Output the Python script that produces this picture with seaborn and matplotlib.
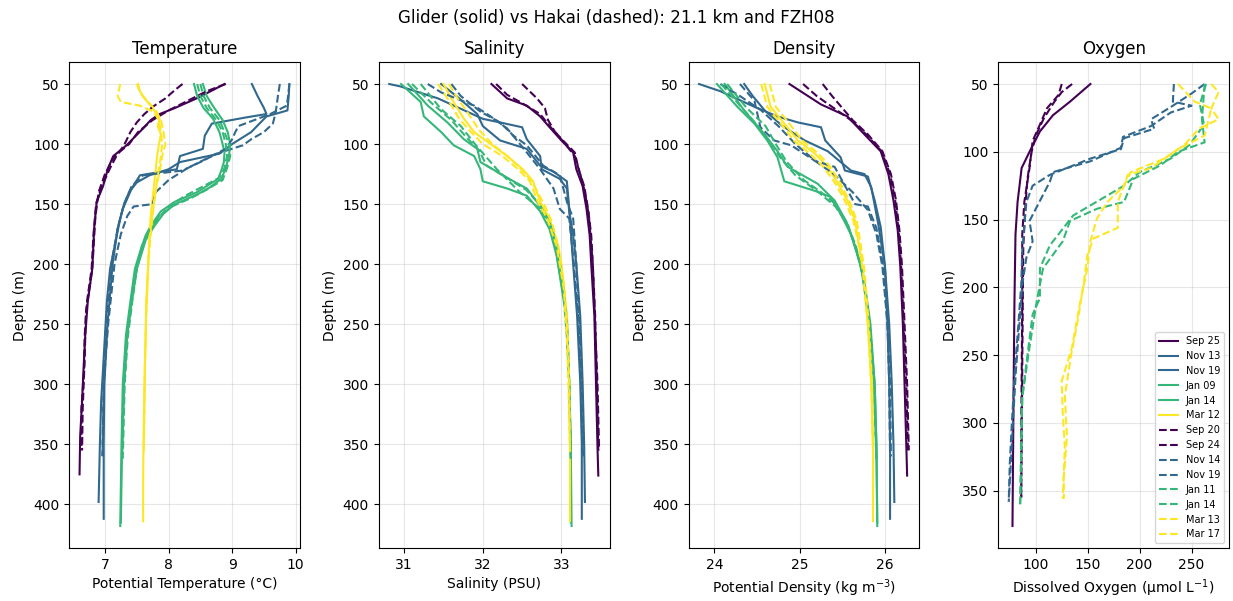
import matplotlib
matplotlib.use("Agg")
import matplotlib.pyplot as plt
from matplotlib.lines import Line2D
import seaborn as sns
import pandas as pd

# ---------------- data (depth list, value list) ----------------
glider_labels = ["Sep 25", "Nov 13", "Nov 19", "Jan 09", "Jan 14", "Mar 12"]
hakai_labels = ["Sep 20", "Sep 24", "Nov 14", "Nov 19", "Jan 11", "Jan 14", "Mar 13", "Mar 17"]

temp_glider = {
    "Sep 25": ([50, 55, 62, 70, 75, 80, 87, 95, 101, 110, 120, 135, 148, 170, 204, 231, 259, 290, 314, 343, 375],
               [8.88, 8.7, 8.44, 8.1, 7.86, 7.72, 7.6, 7.45, 7.34, 7.13, 7.05, 6.97, 6.87, 6.83, 6.8, 6.73, 6.69, 6.66, 6.64, 6.61, 6.6]),
    "Nov 13": ([50, 60, 70, 75, 78, 83, 93, 104, 110, 121, 126, 137, 154, 162, 204, 231, 287, 314, 350, 398],
               [9.31, 9.4, 9.5, 9.54, 9.2, 8.68, 8.57, 8.54, 8.18, 8.13, 7.55, 7.42, 7.28, 7.24, 7.08, 7.03, 6.97, 6.94, 6.92, 6.9]),
    "Nov 19": ([50, 60, 72, 77, 90, 100, 108, 115, 121, 126, 132, 140, 150, 170, 200, 250, 300, 350, 412],
               [9.9, 9.89, 9.87, 9.54, 9.3, 9.0, 8.8, 8.18, 8.0, 7.7, 7.5, 7.38, 7.3, 7.2, 7.12, 7.04, 6.99, 6.98, 6.98]),
    "Jan 09": ([50, 60, 70, 79, 90, 100, 107, 115, 122, 129, 135, 140, 148, 156, 168, 176, 190, 204, 231, 259, 300, 350, 418],
               [8.4, 8.45, 8.55, 8.7, 8.8, 8.85, 8.88, 8.87, 8.83, 8.78, 8.6, 8.45, 8.1, 7.88, 7.72, 7.64, 7.55, 7.47, 7.4, 7.33, 7.28, 7.26, 7.24]),
    "Jan 14": ([50, 60, 70, 80, 90, 100, 110, 120, 129, 136, 142, 150, 158, 168, 180, 204, 231, 259, 300, 350, 415],
               [8.54, 8.6, 8.72, 8.85, 8.93, 8.97, 8.95, 8.9, 8.83, 8.65, 8.45, 8.1, 7.92, 7.78, 7.64, 7.5, 7.42, 7.35, 7.3, 7.27, 7.25]),
    "Mar 12": ([50, 56, 62, 68, 74, 79, 85, 92, 100, 110, 121, 130, 140, 160, 176, 200, 231, 280, 330, 380, 414],
               [7.52, 7.55, 7.62, 7.72, 7.8, 7.86, 7.83, 7.88, 7.85, 7.82, 7.8, 7.78, 7.76, 7.72, 7.7, 7.68, 7.65, 7.63, 7.61, 7.6, 7.6]),
}
temp_hakai = {
    "Sep 20": ([50, 55, 62, 69, 75, 82, 90, 101, 110, 120, 135, 150, 175, 204, 230, 260, 290, 320, 355],
               [8.22, 8.1, 7.95, 7.75, 7.62, 7.5, 7.4, 7.3, 7.18, 7.08, 6.95, 6.86, 6.82, 6.79, 6.72, 6.68, 6.67, 6.63, 6.63]),
    "Sep 24": ([50, 56, 64, 72, 80, 90, 100, 110, 125, 140, 160, 204, 240, 280, 320, 355],
               [8.9, 8.6, 8.3, 8.0, 7.75, 7.52, 7.38, 7.15, 7.0, 6.9, 6.85, 6.8, 6.7, 6.68, 6.65, 6.64]),
    "Nov 14": ([50, 60, 68, 75, 83, 90, 96, 101, 108, 115, 122, 126, 135, 150, 170, 200, 250, 300, 360],
               [9.75, 9.72, 9.7, 9.68, 9.64, 9.5, 9.3, 9.17, 8.76, 8.5, 8.22, 7.6, 7.42, 7.3, 7.2, 7.1, 7.02, 6.98, 6.96]),
    "Nov 19": ([50, 60, 68, 75, 85, 90, 96, 104, 112, 120, 130, 140, 150, 152, 160, 175, 200, 250, 300, 360],
               [9.9, 9.88, 9.86, 9.6, 9.1, 9.05, 9.0, 8.9, 8.6, 8.3, 8.0, 7.8, 7.75, 7.45, 7.35, 7.25, 7.15, 7.05, 6.98, 6.96]),
    "Jan 11": ([50, 60, 70, 80, 90, 100, 110, 120, 128, 135, 142, 150, 158, 168, 180, 204, 231, 260, 300, 362],
               [8.45, 8.5, 8.6, 8.75, 8.85, 8.9, 8.92, 8.88, 8.8, 8.55, 8.3, 8.05, 7.9, 7.75, 7.62, 7.5, 7.42, 7.35, 7.3, 7.27]),
    "Jan 14": ([50, 60, 70, 80, 90, 100, 110, 120, 130, 138, 145, 152, 160, 172, 185, 204, 231, 260, 300, 362],
               [8.5, 8.55, 8.65, 8.8, 8.88, 8.95, 8.97, 8.92, 8.85, 8.6, 8.35, 8.05, 7.85, 7.7, 7.58, 7.5, 7.43, 7.36, 7.31, 7.28]),
    "Mar 13": ([50, 55, 60, 65, 68, 73, 80, 90, 100, 110, 120, 130, 145, 160, 180, 200, 240, 280, 320, 356],
               [7.24, 7.22, 7.2, 7.25, 7.55, 7.76, 7.85, 7.88, 7.9, 7.88, 7.85, 7.82, 7.78, 7.74, 7.7, 7.68, 7.65, 7.63, 7.62, 7.61]),
    "Mar 17": ([50, 58, 65, 72, 80, 90, 100, 110, 120, 130, 145, 160, 180, 200, 240, 280, 320, 356],
               [7.5, 7.56, 7.68, 7.8, 7.88, 7.92, 7.95, 7.9, 7.87, 7.83, 7.78, 7.75, 7.71, 7.68, 7.65, 7.63, 7.62, 7.61]),
}

sal_glider = {
    "Sep 25": ([50, 62, 68, 77, 86, 97, 107, 121, 135, 154, 176, 200, 243, 298, 353, 376],
               [32.11, 32.31, 32.56, 32.73, 32.85, 33.0, 33.15, 33.19, 33.27, 33.32, 33.36, 33.38, 33.42, 33.44, 33.46, 33.47]),
    "Nov 13": ([50, 52, 62, 73, 79, 82, 86, 96, 110, 121, 129, 137, 156, 176, 200, 243, 298, 350, 398],
               [30.81, 30.95, 31.43, 31.8, 32.0, 32.22, 32.5, 32.56, 32.73, 32.75, 32.98, 33.07, 33.1, 33.15, 33.19, 33.24, 33.27, 33.29, 33.3]),
    "Nov 19": ([50, 62, 75, 85, 97, 104, 118, 123, 131, 154, 200, 243, 298, 350, 412],
               [31.47, 31.7, 31.93, 32.0, 32.22, 32.56, 32.73, 32.9, 33.07, 33.1, 33.15, 33.2, 33.24, 33.26, 33.26]),
    "Jan 09": ([50, 65, 77, 90, 101, 110, 121, 131, 137, 143, 156, 171, 193, 243, 298, 353, 418],
               [30.96, 31.21, 31.25, 31.47, 31.63, 31.89, 31.97, 32.0, 32.31, 32.56, 32.73, 32.85, 32.94, 33.06, 33.1, 33.12, 33.13]),
    "Jan 14": ([50, 68, 82, 96, 104, 115, 131, 137, 148, 160, 176, 200, 243, 298, 353, 415],
               [31.05, 31.3, 31.55, 31.76, 31.93, 31.97, 32.39, 32.56, 32.69, 32.81, 32.9, 32.96, 33.07, 33.1, 33.12, 33.12]),
    "Mar 12": ([50, 62, 79, 90, 100, 110, 121, 131, 148, 162, 185, 200, 243, 298, 353, 414],
               [31.5, 31.6, 31.76, 31.89, 32.1, 32.31, 32.51, 32.64, 32.73, 32.85, 32.96, 33.0, 33.07, 33.1, 33.11, 33.11]),
}
sal_hakai = {
    "Sep 20": ([50, 59, 66, 75, 85, 97, 107, 121, 135, 154, 176, 200, 243, 298, 355],
               [32.17, 32.31, 32.5, 32.73, 32.85, 33.02, 33.17, 33.22, 33.29, 33.34, 33.38, 33.4, 33.43, 33.45, 33.47]),
    "Sep 24": ([50, 62, 70, 80, 90, 100, 110, 125, 140, 160, 200, 250, 300, 355],
               [32.5, 32.69, 32.79, 32.83, 32.92, 33.05, 33.17, 33.24, 33.3, 33.35, 33.4, 33.43, 33.46, 33.48]),
    "Nov 14": ([50, 60, 73, 82, 93, 101, 118, 126, 148, 162, 200, 250, 300, 360],
               [31.6, 31.72, 31.97, 32.22, 32.39, 32.56, 32.77, 32.98, 33.07, 33.15, 33.19, 33.23, 33.26, 33.28]),
    "Nov 19": ([50, 57, 68, 77, 87, 107, 121, 137, 154, 162, 200, 250, 300, 360],
               [31.3, 31.47, 31.89, 32.1, 32.31, 32.56, 32.73, 32.9, 32.98, 33.1, 33.16, 33.22, 33.25, 33.27]),
    "Jan 11": ([50, 71, 85, 100, 121, 140, 154, 170, 190, 220, 260, 300, 362],
               [31.21, 31.47, 31.72, 31.9, 32.18, 32.47, 32.73, 32.88, 32.96, 33.03, 33.08, 33.1, 33.12]),
    "Jan 14": ([50, 66, 80, 95, 105, 118, 130, 138, 150, 165, 185, 220, 260, 300, 362],
               [31.1, 31.35, 31.6, 31.8, 31.95, 32.05, 32.35, 32.55, 32.72, 32.85, 32.94, 33.02, 33.07, 33.1, 33.12]),
    "Mar 13": ([50, 62, 79, 90, 100, 110, 121, 131, 148, 162, 185, 220, 260, 300, 356],
               [31.43, 31.55, 31.7, 31.85, 32.0, 32.25, 32.45, 32.6, 32.7, 32.82, 32.94, 33.03, 33.07, 33.09, 33.11]),
    "Mar 17": ([50, 62, 75, 88, 100, 112, 125, 138, 150, 165, 185, 220, 260, 300, 356],
               [31.57, 31.68, 31.82, 31.95, 32.12, 32.35, 32.55, 32.68, 32.78, 32.88, 32.96, 33.04, 33.08, 33.1, 33.11]),
}

dens_glider = {
    "Sep 25": ([50, 67, 77, 92, 106, 125, 147, 172, 202, 250, 300, 350, 376],
               [24.88, 25.25, 25.56, 25.76, 25.95, 26.04, 26.1, 26.15, 26.18, 26.21, 26.23, 26.25, 26.26]),
    "Nov 13": ([50, 56, 69, 77, 82, 86, 97, 111, 122, 127, 147, 169, 202, 250, 300, 350, 398],
               [23.82, 24.07, 24.47, 24.74, 24.98, 25.25, 25.3, 25.48, 25.53, 25.8, 25.88, 25.95, 26.0, 26.05, 26.08, 26.1, 26.11]),
    "Nov 19": ([50, 60, 72, 85, 97, 106, 122, 125, 136, 166, 202, 250, 300, 350, 412],
               [24.35, 24.45, 24.59, 24.8, 25.06, 25.33, 25.6, 25.76, 25.84, 25.92, 26.0, 26.03, 26.05, 26.06, 26.06]),
    "Jan 09": ([50, 69, 83, 97, 111, 131, 139, 144, 158, 175, 202, 250, 300, 350, 418],
               [24.03, 24.27, 24.47, 24.62, 24.74, 24.82, 25.18, 25.36, 25.48, 25.6, 25.72, 25.82, 25.88, 25.9, 25.91]),
    "Jan 14": ([50, 72, 92, 106, 119, 133, 147, 165, 185, 210, 250, 300, 350, 415],
               [24.12, 24.35, 24.59, 24.74, 24.86, 25.21, 25.41, 25.55, 25.65, 25.75, 25.83, 25.88, 25.9, 25.91]),
    "Mar 12": ([50, 69, 83, 97, 108, 119, 133, 147, 164, 186, 205, 250, 300, 350, 414],
               [24.59, 24.66, 24.82, 24.98, 25.18, 25.33, 25.45, 25.56, 25.65, 25.7, 25.74, 25.8, 25.84, 25.86, 25.86]),
}
dens_hakai = {
    "Sep 20": ([50, 60, 70, 80, 92, 106, 125, 147, 172, 202, 250, 300, 355],
               [25.04, 25.2, 25.4, 25.6, 25.78, 25.96, 26.06, 26.12, 26.16, 26.19, 26.22, 26.25, 26.27]),
    "Sep 24": ([50, 60, 70, 80, 92, 106, 125, 147, 172, 202, 250, 300, 355],
               [25.27, 25.38, 25.5, 25.62, 25.8, 25.97, 26.07, 26.13, 26.17, 26.2, 26.23, 26.26, 26.28]),
    "Nov 14": ([50, 64, 86, 97, 101, 114, 119, 150, 152, 170, 202, 250, 300, 360],
               [24.3, 24.47, 24.54, 24.7, 24.9, 25.18, 25.41, 25.65, 25.8, 25.9, 25.98, 26.03, 26.05, 26.06]),
    "Nov 19": ([50, 60, 72, 85, 100, 115, 125, 140, 155, 175, 202, 250, 300, 360],
               [24.07, 24.3, 24.55, 24.75, 24.95, 25.2, 25.4, 25.62, 25.8, 25.9, 25.97, 26.03, 26.06, 26.07]),
    "Jan 11": ([50, 70, 85, 100, 115, 130, 140, 150, 165, 185, 210, 250, 300, 362],
               [24.15, 24.38, 24.6, 24.72, 24.85, 25.05, 25.25, 25.42, 25.55, 25.66, 25.74, 25.82, 25.87, 25.9]),
    "Jan 14": ([50, 68, 84, 98, 112, 126, 140, 152, 168, 190, 215, 250, 300, 362],
               [24.08, 24.3, 24.5, 24.65, 24.78, 24.95, 25.22, 25.42, 25.57, 25.67, 25.76, 25.82, 25.87, 25.9]),
    "Mar 13": ([50, 69, 83, 97, 108, 119, 133, 147, 164, 186, 205, 250, 300, 356],
               [24.55, 24.62, 24.78, 24.93, 25.12, 25.28, 25.42, 25.53, 25.63, 25.7, 25.74, 25.8, 25.84, 25.86]),
    "Mar 17": ([50, 69, 83, 97, 108, 119, 133, 147, 164, 186, 205, 250, 300, 356],
               [24.65, 24.72, 24.88, 25.03, 25.22, 25.36, 25.48, 25.58, 25.67, 25.72, 25.76, 25.81, 25.85, 25.86]),
}

oxy_glider = {
    "Sep 25": ([50, 63, 73, 85, 100, 112, 137, 161, 210, 281, 376],
               [152.6, 133, 116.6, 104, 94, 86.4, 82.5, 80.5, 79.5, 78.6, 77.6]),
}
oxy_hakai = {
    "Sep 20": ([50, 58, 68, 80, 92, 112, 137, 161, 210, 260, 310, 355],
               [125, 122, 110.7, 104, 97, 94, 89, 87, 87, 86.5, 86, 86]),
    "Sep 24": ([50, 56, 63, 75, 88, 100, 120, 140, 170, 210, 260, 310, 355],
               [135, 125, 118, 108, 100, 96, 92, 90, 88, 87.5, 87, 86.5, 86]),
    "Nov 14": ([50, 57, 66, 76, 83, 90, 98, 105, 117, 125, 137, 173, 198, 230, 260, 300, 330, 358],
               [262.6, 250, 232, 211, 214, 185, 182, 152.6, 113.6, 97, 91, 87, 86, 83, 80, 77, 75, 74]),
    "Nov 19": ([50, 63, 66, 71, 81, 89, 97, 107, 115, 122, 151, 166, 178, 198, 230, 260, 300, 330, 358],
               [233, 232, 250, 230, 211, 184, 182, 152.6, 116.6, 113.6, 94, 97, 91, 87, 84, 81, 78, 76, 74]),
    "Jan 11": ([50, 76, 93, 100, 110, 120, 137, 142, 151, 166, 186, 210, 244, 281, 320, 360],
               [262.6, 260, 262.6, 237, 220, 194, 185, 159, 133, 126, 107, 101, 94, 87, 86, 85]),
    "Jan 14": ([50, 65, 80, 95, 105, 115, 125, 134, 147, 169, 186, 208, 220, 250, 281, 320, 360],
               [264, 258, 262, 248, 230, 200, 185, 165, 136, 113.6, 104, 104, 97, 92, 87, 86, 85]),
    "Mar 13": ([50, 56, 68, 76, 83, 95, 105, 115, 125, 137, 149, 166, 186, 210, 244, 269, 293, 318, 356],
               [269, 276, 269, 276, 257, 243, 224, 191.5, 185, 169, 159, 152.6, 149.7, 143, 135, 125, 126, 128, 126]),
    "Mar 17": ([50, 63, 68, 88, 98, 112, 117, 137, 156, 164, 176, 198, 222, 250, 280, 310, 340, 356],
               [237, 253, 269, 262.6, 237, 211, 188.6, 179, 179, 155.5, 149.7, 146, 141, 134, 128, 130, 127, 127]),
}

panel_titles = ["Temperature", "Salinity", "Density", "Oxygen"]
x_labels = ["Potential Temperature (°C)", "Salinity (PSU)",
            "Potential Density (kg m$^{-3}$)", "Dissolved Oxygen (µmol L$^{-1}$)"]
suptitle = "Glider (solid) vs Hakai (dashed): 21.1 km and FZH08"

# ---------------- style ----------------
month_colors = {
    "Sep": plt.cm.viridis(0.0),
    "Nov": plt.cm.viridis(1 / 3),
    "Jan": plt.cm.viridis(2 / 3),
    "Mar": plt.cm.viridis(1.0),
}

def color_of(label):
    return month_colors[label.split()[0]]

plt.rcParams["font.family"] = ["DejaVu Sans"]
fig, axes = plt.subplots(1, 4, figsize=(12.33, 6.01), dpi=100)
fig.subplots_adjust(left=0.056, right=0.9968, top=0.897, bottom=0.088, wspace=0.342)

panels = [(temp_glider, temp_hakai), (sal_glider, sal_hakai),
          (dens_glider, dens_hakai), (oxy_glider, oxy_hakai)]

for ax, (gdict, hdict), title, xl in zip(axes, panels, panel_titles, x_labels):
    for lab in glider_labels:
        if lab in gdict:
            d, v = gdict[lab]
            df = pd.DataFrame({"depth": d, "val": v})
            sns.lineplot(data=df, x="val", y="depth", sort=False, estimator=None,
                         color=color_of(lab), linewidth=1.5, ax=ax)
    for lab in hakai_labels:
        if lab in hdict:
            d, v = hdict[lab]
            df = pd.DataFrame({"depth": d, "val": v})
            sns.lineplot(data=df, x="val", y="depth", sort=False, estimator=None,
                         color=color_of(lab), linewidth=1.5, linestyle="--", ax=ax)
    ax.invert_yaxis()
    ax.set_title(title, fontsize=12)
    ax.set_xlabel(xl, fontsize=10)
    ax.set_ylabel("Depth (m)", fontsize=10)
    ax.grid(True, alpha=0.3)
    ax.tick_params(labelsize=10)

handles = []
for lab in glider_labels:
    handles.append(Line2D([0], [0], color=color_of(lab), lw=1.5, ls="-", label=lab))
for lab in hakai_labels:
    handles.append(Line2D([0], [0], color=color_of(lab), lw=1.5, ls="--", label=lab))
axes[3].legend(handles=handles, loc="lower right", fontsize=7)

fig.suptitle(suptitle, fontsize=12, y=0.985)
fig.savefig("out.png", dpi=100)
